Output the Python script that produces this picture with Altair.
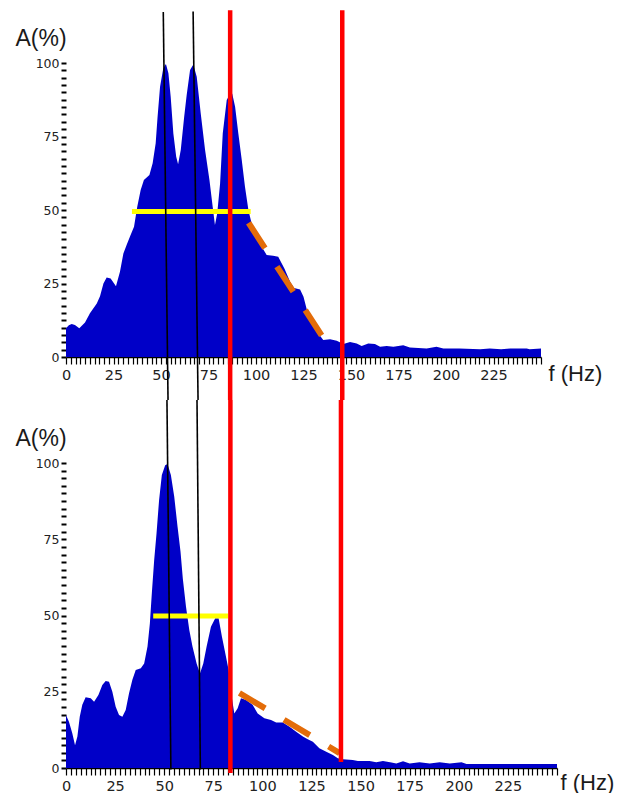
import altair as alt
import pandas as pd

# ---------------- spectra ----------------
top_freq = [0, 1.5, 3, 4.7, 7, 10, 12.6, 16.2, 17.9, 19.7, 21.4, 23.5, 26.3, 28.4, 30.2, 31.9, 34, 35.8,
            37.5, 39.3, 41, 43.9, 45.6, 47.2, 48.2, 49.5, 51.2, 52.6, 53.9, 55.1, 56.5, 58, 59, 60.4,
            62.2, 63.5, 65.3, 67, 68.8, 70.9, 73.2, 75.5, 77.2, 78.4, 79.6, 81.1, 82.5, 84.6, 86.5,
            87.5, 89, 90.7, 92.5, 94.2, 96, 97.7, 100, 103, 105.6, 109, 111.7, 115, 118, 120, 123.2,
            125, 126.8, 129.3, 132.8, 135.4, 139, 142.5, 146, 149.5, 153, 155.6, 159.1, 162.6, 165.3,
            168.8, 172.3, 177.5, 181, 189.8, 195, 198.6, 207, 218, 223, 229, 233.7, 242.5, 244, 250]
top_amp = [9.8, 10.8, 11.2, 10.9, 9.8, 11.7, 14.9, 18.2, 20.7, 25, 27, 26.7, 24.1, 29, 35.2, 38.1,
           41.5, 44.3, 51.1, 56.8, 60.2, 61.9, 65.9, 72.7, 81.7, 91.9, 98.2, 99.7, 96.5, 88.5, 76,
           68.1, 65.6, 70.4, 81.7, 89, 97.6, 99.5, 95.3, 82.9, 70.4, 60.2, 51.1, 44.9, 48.9, 59, 76,
           87.4, 89.7, 89.5, 85.1, 76, 67, 57.9, 50, 45.4, 41, 37.5, 34.7, 34.4, 34.1, 30, 25.5, 23.5,
           23, 20.5, 16, 12.6, 8.0, 5.8, 6.0, 5.5, 4.4, 5.1, 4.6, 3.7, 4.6, 4.4, 3.5, 3.7, 3.5, 4.0,
           3.2, 2.9, 3.5, 2.9, 2.9, 2.6, 2.9, 2.6, 2.9, 2.9, 2.6, 2.9]

bot_freq = [0, 1.5, 3.2, 4.6, 5.8, 7, 8.3, 10, 12.6, 14.3, 16.5, 18.5, 20.2, 21.9, 23.6, 25.3, 27,
            28.7, 30.4, 32.1, 33.8, 35.5, 38.1, 39.8, 41.5, 42.7, 43.7, 44.9, 46.1, 47.4, 48.8, 50.5,
            51.7, 53.4, 55.1, 56.8, 58.3, 59.5, 61.1, 62.8, 64.4, 66.5, 68.2, 69.9, 71.6, 73.8, 76,
            77.7, 79.4, 81.1, 82.8, 84.2, 85.7, 87.4, 89.1, 91.7, 95, 97.6, 101, 104.4, 107, 110.4,
            113.8, 117.2, 120.6, 123.1, 125.7, 129, 132.5, 135.9, 138.4, 141, 146, 148.6, 154.6, 158,
            161.4, 165.7, 168.2, 171.6, 175, 180, 185.2, 190.3, 195.4, 201.4, 203.9, 250]
bot_amp = [17.4, 15.2, 11.4, 7.5, 10.3, 16.8, 20.7, 23.2, 22.9, 21.7, 23.9, 27.2, 28.5, 28.3, 25,
           20.1, 17.4, 16.8, 19, 24.5, 28.9, 32.1, 32.7, 34.3, 39.8, 47.4, 57.3, 68.2, 77, 87.9, 96.1,
           99.3, 99.7, 96.1, 89, 79.1, 71, 62, 52.9, 45.2, 39.8, 34.3, 31, 34.3, 39.8, 46.3, 49.1,
           49.1, 43, 37.6, 32.1, 24, 17.9, 19.6, 22.9, 22.3, 20.7, 17.9, 16.3, 15.7, 14.9, 14.9, 13.5,
           11.9, 10.3, 9.4, 8.6, 6.5, 5.3, 4.3, 3.2, 2.9, 2.6, 2.3, 2.3, 1.9, 2.3, 1.8, 1.5, 2.2, 1.5,
           1.9, 1.5, 1.9, 1.5, 1.9, 1.3, 1.3]

# ---------------- annotation lines (data units of each panel) ----------------
top_red_f = [86.4, 145.4]
top_red_a1 = [117.94, 117.94]
top_red_a2 = [-14.63, -14.63]
bot_red_f = [83.7, 140.0]
bot_red_a1 = [120.66, 120.66]
bot_red_a2 = [-1.64, 2.0]

top_black_f1 = [51.2, 66.9]
top_black_f2 = [53.7, 69.5]
top_black_a1 = [117.35, 117.5]
top_black_a2 = [-14.63, -14.63]
bot_black_f1 = [51.4, 66.7]
bot_black_f2 = [53.4, 68.4]
bot_black_a1 = [120.66, 120.66]
bot_black_a2 = [-0.5, -0.5]

top_yellow = {"f": [34.7], "f2": [97.2], "a": [49.5]}
bot_yellow = {"f": [44.4], "f2": [82.5], "a": [49.8]}
top_orange = {"f": [96.1], "f2": [135.1], "a": [45.6], "a2": [6.8]}
bot_orange = {"f": [88.3], "f2": [139.3], "a": [24.6], "a2": [4.9]}

x_ticks = [i * 2.5 for i in range(101)]
y_ticks = [i * 2.5 for i in range(41)]

BLUE = "#0000c8"
LABEL_FONT = "DejaVu Sans"
TITLE_FONT = "Liberation Sans"


def panel(freq, amp, width, height, red, black, yellow, orange, xtitle_dx, xtitle_dy, lpad):
    xaxis = alt.Axis(
        values=x_ticks,
        labelExpr="(datum.value % 25 == 0 && datum.value < 250) ? datum.label : ''",
        title="f (Hz)", titleX=xtitle_dx, titleY=xtitle_dy, titleAlign="left",
        titleBaseline="alphabetic", titleFont=TITLE_FONT, titleFontSize=22,
        titleFontWeight="normal", titleColor="#1a1a1a",
        labelFont=LABEL_FONT, labelFontSize=14.5, labelColor="#222222", labelPadding=lpad,
        labelOverlap=False, labelFlush=False, labelBound=False,
        tickSize=7, tickWidth=1.2, tickColor="black",
        domainColor="black", domainWidth=1.5, grid=False,
    )
    yaxis = alt.Axis(
        values=y_ticks,
        labelExpr="datum.value % 25 == 0 ? datum.label : ''",
        title="A(%)", titleAngle=0, titleX=-51, titleY=-18, titleAlign="left",
        titleBaseline="alphabetic", titleFont=TITLE_FONT, titleFontSize=23,
        titleFontWeight="normal", titleColor="#1a1a1a",
        labelFont=LABEL_FONT, labelFontSize=12.5, labelColor="#222222", labelPadding=2,
        labelOverlap=False, labelFlush=False, labelBound=False,
        tickSize=5, tickWidth=2, tickColor="black", domain=False, grid=False,
    )
    xs = alt.Scale(domain=[0, 250], nice=False, zero=False)
    ys = alt.Scale(domain=[0, 100], nice=False)
    X = alt.X("f:Q", scale=xs, axis=xaxis)
    Y = alt.Y("a:Q", scale=ys, axis=yaxis)

    spec = pd.DataFrame({"f": freq, "a": amp})
    area = alt.Chart(spec).mark_area(color=BLUE, interpolate="linear").encode(x=X, y=Y)

    ydf = pd.DataFrame(yellow)
    ylw = alt.Chart(ydf).mark_rule(color="#ffff00", strokeWidth=5).encode(
        x=X, x2="f2:Q", y=Y)

    odf = pd.DataFrame(orange)
    org = alt.Chart(odf).mark_rule(color="#e36c09", strokeWidth=6, strokeDash=[30, 22],
                                  strokeCap="butt").encode(
        x=X, x2="f2:Q", y=Y, y2="a2:Q")

    bdf = pd.DataFrame({"f": black[0], "f2": black[1], "a": black[2], "a2": black[3]})
    blk = alt.Chart(bdf).mark_rule(color="black", strokeWidth=1.6).encode(
        x=X, x2="f2:Q", y=Y, y2="a2:Q")

    rdf = pd.DataFrame({"f": red[0], "a": red[1], "a2": red[2]})
    rd = alt.Chart(rdf).mark_rule(color="#ff0000", strokeWidth=4.5).encode(
        x=X, y=Y, y2="a2:Q")

    return alt.layer(area, ylw, org, blk, rd).properties(width=width, height=height)


top = panel(top_freq, top_amp, 475, 294,
            (top_red_f, top_red_a1, top_red_a2),
            (top_black_f1, top_black_f2, top_black_a1, top_black_a2),
            top_yellow, top_orange, 482, 23, 4)
bottom = panel(bot_freq, bot_amp, 491, 305,
               (bot_red_f, bot_red_a1, bot_red_a2),
               (bot_black_f1, bot_black_f2, bot_black_a1, bot_black_a2),
               bot_yellow, bot_orange, 494, 21, 4)

chart = alt.vconcat(top, bottom, spacing=106, bounds="flush").properties(
    padding={"left": 7, "top": 0, "right": 0, "bottom": 0},
    background="white",
).configure_view(stroke=None)

chart.save("out.html", embed_options={"renderer": "svg", "actions": False})
